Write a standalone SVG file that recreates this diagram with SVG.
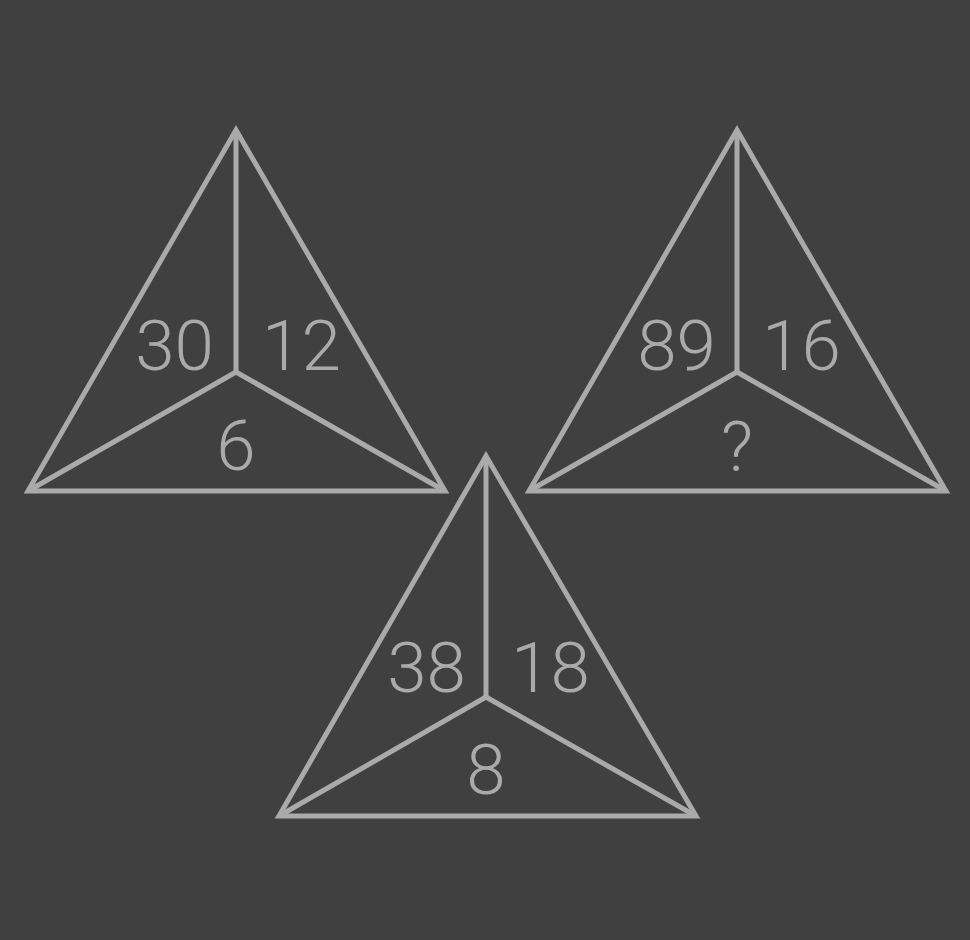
<svg xmlns="http://www.w3.org/2000/svg" width="970" height="940" viewBox="0 0 970 940">
<style>
.bg{fill:#404040}
.tri{fill:none;stroke:#aaaaaa;stroke-width:5;stroke-linejoin:miter;stroke-miterlimit:20}
.ln{stroke:#aaaaaa;stroke-width:5;stroke-linecap:butt}
.t{font-family:Roboto,"Open Sans",sans-serif;font-weight:300;font-size:71px;fill:#aaaaaa}
.r{text-anchor:end}
.m{text-anchor:middle}
</style>
<rect class="bg" width="970" height="940"/>
<g id="triangle1">
<polygon class="tri" points="236,130 28,491 445,491"/>
<line class="ln" x1="236" y1="130" x2="236" y2="372"/>
<line class="ln" x1="236" y1="372" x2="28" y2="491"/>
<line class="ln" x1="236" y1="372" x2="445" y2="491"/>
<text class="t r" x="214" y="370">30</text>
<text class="t" x="262" y="370">12</text>
<text class="t m" x="236" y="470">6</text>
</g>
<g id="triangle2">
<polygon class="tri" points="737,130 529,491 946,491"/>
<line class="ln" x1="737" y1="130" x2="737" y2="372"/>
<line class="ln" x1="737" y1="372" x2="529" y2="491"/>
<line class="ln" x1="737" y1="372" x2="946" y2="491"/>
<text class="t r" x="716" y="370">89</text>
<text class="t" x="762" y="370">16</text>
<text class="t m" x="737" y="471">?</text>
</g>
<g id="triangle3">
<polygon class="tri" points="486,456 279,816 696,816"/>
<line class="ln" x1="486" y1="456" x2="486" y2="697"/>
<line class="ln" x1="486" y1="697" x2="279" y2="816"/>
<line class="ln" x1="486" y1="697" x2="696" y2="816"/>
<text class="t r" x="466" y="692">38</text>
<text class="t" x="511" y="692">18</text>
<text class="t m" x="486" y="794">8</text>
</g>
</svg>
